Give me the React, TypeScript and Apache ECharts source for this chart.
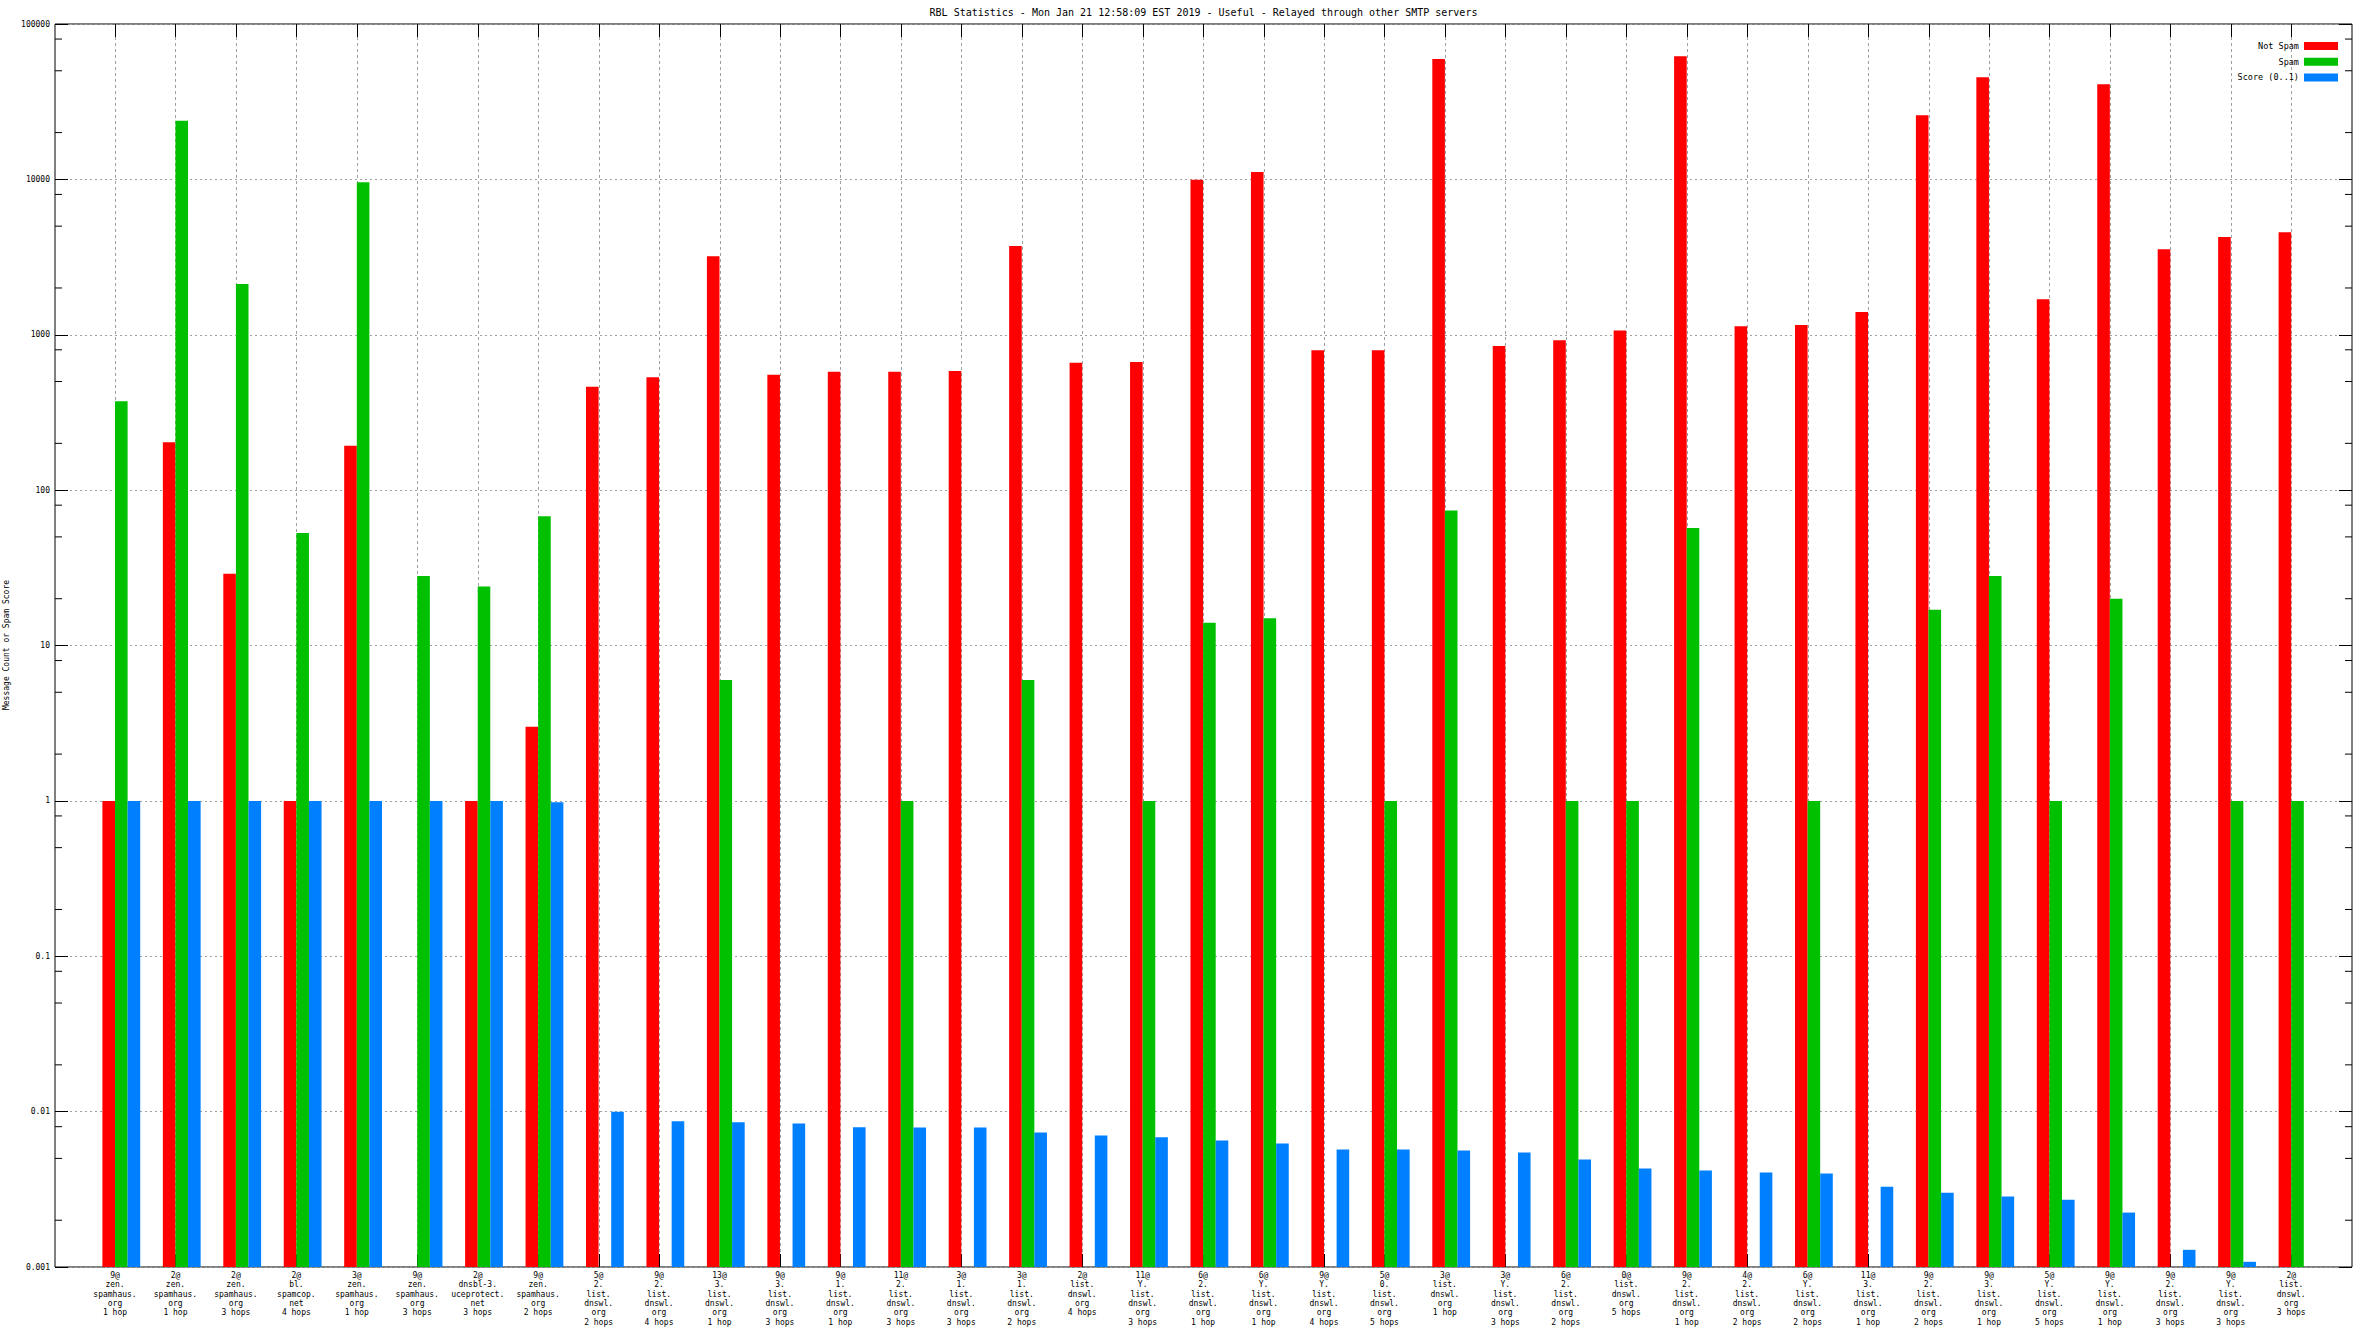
import React, { useEffect, useRef } from "react";
import * as echarts from "echarts";

const titleText =
  "RBL Statistics - Mon Jan 21 12:58:09 EST 2019 - Useful - Relayed through other SMTP servers";
const yAxisTitle = "Message Count or Spam Score";

const categories = [
  "9@\nzen.\nspamhaus.\norg\n1 hop",
  "2@\nzen.\nspamhaus.\norg\n1 hop",
  "2@\nzen.\nspamhaus.\norg\n3 hops",
  "2@\nbl.\nspamcop.\nnet\n4 hops",
  "3@\nzen.\nspamhaus.\norg\n1 hop",
  "9@\nzen.\nspamhaus.\norg\n3 hops",
  "2@\ndnsbl-3.\nuceprotect.\nnet\n3 hops",
  "9@\nzen.\nspamhaus.\norg\n2 hops",
  "5@\n2.\nlist.\ndnswl.\norg\n2 hops",
  "9@\n2.\nlist.\ndnswl.\norg\n4 hops",
  "13@\n3.\nlist.\ndnswl.\norg\n1 hop",
  "9@\n3.\nlist.\ndnswl.\norg\n3 hops",
  "9@\n1.\nlist.\ndnswl.\norg\n1 hop",
  "11@\n2.\nlist.\ndnswl.\norg\n3 hops",
  "3@\n1.\nlist.\ndnswl.\norg\n3 hops",
  "3@\n1.\nlist.\ndnswl.\norg\n2 hops",
  "2@\nlist.\ndnswl.\norg\n4 hops",
  "11@\nY.\nlist.\ndnswl.\norg\n3 hops",
  "6@\n2.\nlist.\ndnswl.\norg\n1 hop",
  "6@\nY.\nlist.\ndnswl.\norg\n1 hop",
  "9@\nY.\nlist.\ndnswl.\norg\n4 hops",
  "5@\n0.\nlist.\ndnswl.\norg\n5 hops",
  "3@\nlist.\ndnswl.\norg\n1 hop",
  "3@\nY.\nlist.\ndnswl.\norg\n3 hops",
  "6@\n2.\nlist.\ndnswl.\norg\n2 hops",
  "0@\nlist.\ndnswl.\norg\n5 hops",
  "9@\n2.\nlist.\ndnswl.\norg\n1 hop",
  "4@\n2.\nlist.\ndnswl.\norg\n2 hops",
  "6@\nY.\nlist.\ndnswl.\norg\n2 hops",
  "11@\n3.\nlist.\ndnswl.\norg\n1 hop",
  "9@\n2.\nlist.\ndnswl.\norg\n2 hops",
  "9@\n3.\nlist.\ndnswl.\norg\n1 hop",
  "5@\nY.\nlist.\ndnswl.\norg\n5 hops",
  "9@\nY.\nlist.\ndnswl.\norg\n1 hop",
  "9@\n2.\nlist.\ndnswl.\norg\n3 hops",
  "9@\nY.\nlist.\ndnswl.\norg\n3 hops",
  "2@\nlist.\ndnswl.\norg\n3 hops",
];

const notSpam = [
  1, 203, 29, 1, 193, null, 1, 3, 462, 533, 3200, 552, 578, 578, 584, 3726, 660, 668, 9950,
  11140, 796, 796, 59500, 848, 922, 1065, 62000, 1134, 1155, 1400, 25900, 45500, 1690, 41000,
  3550, 4250, 4560,
];
const spam = [
  373, 23850, 2125, 53, 9580, 28, 24, 68, null, null, 6, null, null, 1, null, 6, null, 1, 14, 15,
  null, 1, 74, null, 1, 1, 57, null, 1, null, 17, 28, 1, 20, null, 1, 1,
];
const score = [
  1, 1, 1, 1, 1, 1, 1, 0.98, 0.01, 0.00866, 0.00853, 0.0084, 0.00792, 0.0079, 0.0079, 0.00735,
  0.00703, 0.00683, 0.00653, 0.00624, 0.00571, 0.00571, 0.00562, 0.00546, 0.00492, 0.0043,
  0.00418, 0.00405, 0.00399, 0.00329, 0.00301, 0.00284, 0.00271, 0.00224, 0.00129, 0.00108, null,
];

const seriesNames = ["Not Spam", "Spam", "Score (0..1)"];
const seriesColors = ["#ff0000", "#00c000", "#0080ff"];

const yTickLabels = ["0.001", "0.01", "0.1", "1", "10", "100", "1000", "10000", "100000"];
const yMinorTicks = [
  0.002, 0.005, 0.008, 0.02, 0.05, 0.08, 0.2, 0.5, 0.8, 2, 5, 8, 20, 50, 80, 200, 500, 800,
  2000, 5000, 8000, 20000, 50000, 80000,
];

const FONT = "DejaVu Sans Mono";
const W = 2368;
const H = 1332;
const FRAME_L = 55;
const FRAME_R = 2352;
const FRAME_T = 24;
const FRAME_B = 1267;
const CAT_W = 60.45;
const FIRST_TICK = 115;
const BAR_W = 12.6;

export default function App() {
  const ref = useRef<HTMLDivElement>(null);

  useEffect(() => {
    if (!ref.current) return;
    const chart = echarts.init(ref.current, null, { renderer: "svg" });

    const barLeft = FIRST_TICK - CAT_W / 2;
    const barRight = W - (barLeft + CAT_W * categories.length);

    const yLabel = (v: number) => {
      const k = Math.round(Math.log10(v)) + 3;
      return yTickLabels[k] ?? "";
    };

    const option: any = {
      animation: false,
      backgroundColor: "#ffffff",
      graphic: [
        {
          type: "text",
          x: (FRAME_L + FRAME_R) / 2,
          y: 12,
          style: {
            text: titleText,
            fontFamily: FONT,
            fontSize: 10,
            fill: "#000",
            align: "center",
            verticalAlign: "middle",
          },
        },
        {
          type: "text",
          x: 6,
          y: 645,
          rotation: Math.PI / 2,
          style: {
            text: yAxisTitle,
            fontFamily: FONT,
            fontSize: 8,
            fill: "#000",
            align: "center",
            verticalAlign: "middle",
          },
        },
      ],
      legend: {
        data: seriesNames,
        orient: "vertical",
        align: "right",
        right: W - 2343,
        top: 36,
        itemWidth: 34,
        itemHeight: 8,
        itemGap: 5.7,
        icon: "rect",
        selectedMode: false,
        textStyle: { fontFamily: FONT, fontSize: 8.5, color: "#000", lineHeight: 10 },
      },
      grid: [
        {
          left: FRAME_L,
          top: FRAME_T,
          width: FRAME_R - FRAME_L,
          height: FRAME_B - FRAME_T,
          show: true,
          borderColor: "#000",
          borderWidth: 1,
          backgroundColor: "transparent",
          outerBoundsMode: "none",
          containLabel: false,
        },
        {
          left: barLeft,
          right: barRight,
          top: FRAME_T,
          height: FRAME_B - FRAME_T,
          outerBoundsMode: "none",
          containLabel: false,
        },
      ],
      xAxis: [
        { gridIndex: 0, type: "value", min: 0, max: 1, show: false },
        {
          gridIndex: 1,
          type: "category",
          data: categories,
          axisLine: { show: false },
          axisTick: { show: false },
          splitLine: { show: false },
          axisLabel: {
            interval: 0,
            margin: 4,
            fontFamily: FONT,
            fontSize: 8,
            lineHeight: 9.3,
            color: "#000",
            align: "center",
          },
        },
      ],
      yAxis: [
        {
          gridIndex: 0,
          type: "log",
          logBase: 10,
          min: 0.001,
          max: 100000,
          splitNumber: 8,
          axisLine: { show: false },
          axisTick: { show: true, inside: true, length: 13, lineStyle: { color: "#000" } },
          axisLabel: {
            margin: 5,
            fontFamily: FONT,
            fontSize: 8,
            color: "#000",
            formatter: yLabel,
          },
          splitLine: { show: true, lineStyle: { color: "#a0a0a0", type: [2, 3], width: 1 } },
        },
        {
          gridIndex: 0,
          type: "log",
          logBase: 10,
          min: 0.001,
          max: 100000,
          splitNumber: 8,
          position: "right",
          axisLine: { show: false },
          axisTick: { show: true, inside: true, length: 13, lineStyle: { color: "#000" } },
          axisLabel: { show: false },
          splitLine: { show: false },
        },
        {
          gridIndex: 1,
          type: "log",
          logBase: 10,
          min: 0.001,
          max: 100000,
          startValue: 0.001,
          show: false,
          splitLine: { show: false },
        },
      ],
      series: [
        {
          type: "custom",
          name: "minorTicks",
          xAxisIndex: 0,
          yAxisIndex: 0,
          silent: true,
          z: 5,
          data: yMinorTicks.map((v) => [0, v]),
          renderItem: (params: any, api: any) => {
            const v = api.value(1);
            const pl = api.coord([0, v]);
            const pr = api.coord([1, v]);
            return {
              type: "group",
              children: [
                {
                  type: "line",
                  shape: { x1: pl[0], y1: pl[1], x2: pl[0] + 7, y2: pl[1] },
                  style: { stroke: "#000", lineWidth: 1 },
                },
                {
                  type: "line",
                  shape: { x1: pr[0] - 7, y1: pr[1], x2: pr[0], y2: pr[1] },
                  style: { stroke: "#000", lineWidth: 1 },
                },
              ],
            };
          },
        },
        {
          type: "custom",
          name: "xGrid",
          xAxisIndex: 1,
          yAxisIndex: 2,
          silent: true,
          z: 1,
          data: categories.map((_, i) => [i, 1]),
          renderItem: (params: any, api: any) => {
            const idx = api.value(0);
            const top = api.coord([idx, 100000]);
            const bot = api.coord([idx, 0.001]);
            const x = Math.round(top[0]) + 0.5;
            return {
              type: "group",
              children: [
                {
                  type: "line",
                  shape: { x1: x, y1: top[1] + 13, x2: x, y2: bot[1] - 13 },
                  style: { stroke: "#a0a0a0", lineWidth: 1, lineDash: [3, 3] },
                },
                {
                  type: "line",
                  shape: { x1: x, y1: top[1], x2: x, y2: top[1] + 13 },
                  style: { stroke: "#000", lineWidth: 1 },
                },
                {
                  type: "line",
                  shape: { x1: x, y1: bot[1] - 13, x2: x, y2: bot[1] },
                  style: { stroke: "#000", lineWidth: 1 },
                },
              ],
            };
          },
        },
        {
          type: "bar",
          name: "pad",
          xAxisIndex: 1,
          yAxisIndex: 2,
          data: categories.map(() => null),
          barWidth: BAR_W,
          barGap: "0%",
          z: 2,
        },
        {
          type: "bar",
          name: seriesNames[0],
          xAxisIndex: 1,
          yAxisIndex: 2,
          data: notSpam,
          barWidth: BAR_W,
          barGap: "0%",
          itemStyle: { color: seriesColors[0] },
          z: 2,
        },
        {
          type: "bar",
          name: seriesNames[1],
          xAxisIndex: 1,
          yAxisIndex: 2,
          data: spam,
          barWidth: BAR_W,
          barGap: "0%",
          itemStyle: { color: seriesColors[1] },
          z: 2,
        },
        {
          type: "bar",
          name: seriesNames[2],
          xAxisIndex: 1,
          yAxisIndex: 2,
          data: score,
          barWidth: BAR_W,
          barGap: "0%",
          itemStyle: { color: seriesColors[2] },
          z: 2,
        },
      ],
    };

    chart.setOption(option);
    return () => chart.dispose();
  }, []);

  return (
    <div
      ref={ref}
      style={{ position: "fixed", left: 0, top: 0, width: W, height: H, background: "#fff" }}
    />
  );
}
